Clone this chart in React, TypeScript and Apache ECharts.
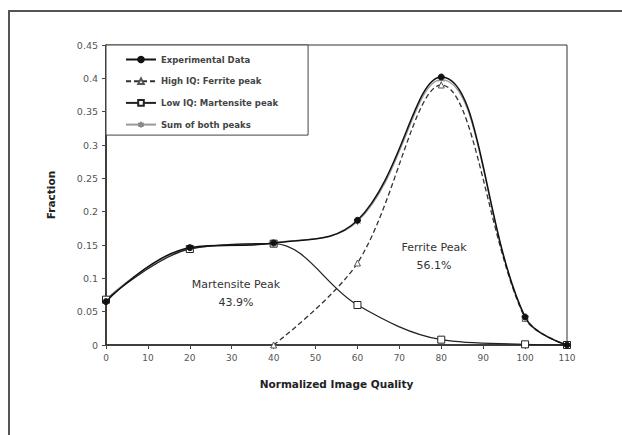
import React, { useEffect, useRef } from "react";
import * as echarts from "echarts";

// Normalized image quality bins
const iqValues = [0, 20, 40, 60, 80, 100, 110];

// Measured fraction per IQ bin
const experimental = [0.065, 0.146, 0.153, 0.187, 0.402, 0.042, 0.0];
// Fitted high-IQ (ferrite) peak
const ferriteIQ = [40, 60, 80, 100, 110];
const ferritePeak = [0.0, 0.123, 0.39, 0.04, 0.0];
// Fitted low-IQ (martensite) peak
const martensitePeak = [0.068, 0.144, 0.152, 0.06, 0.008, 0.001, 0.0];
// Sum of the two fitted peaks
const sumPeaks = [0.068, 0.145, 0.153, 0.185, 0.398, 0.041, 0.0];

const xTicks = { min: 0, max: 110, interval: 10 };
const yTicks = { min: 0, max: 0.45, interval: 0.05 };

const asterisk =
  "path://M5,0 L5,10 M0.7,2.5 L9.3,7.5 M0.7,7.5 L9.3,2.5";

const pair = (xs: number[], ys: number[]) => xs.map((x, i) => [x, ys[i]]);

export default function App() {
  const ref = useRef<HTMLDivElement>(null);

  useEffect(() => {
    if (!ref.current) return;
    const chart = echarts.init(ref.current, undefined, { renderer: "svg" });
    const font = "DejaVu Sans, Arial, sans-serif";
    chart.setOption({
      animation: false,
      backgroundColor: "#ffffff",
      textStyle: { fontFamily: font },
      grid: {
        left: 106,
        top: 45,
        right: 55,
        bottom: 90,
        show: true,
        borderColor: "#333",
        borderWidth: 1,
      },
      legend: {
        orient: "vertical",
        left: 106,
        top: 45,
        padding: [10, 30, 6, 19],
        itemGap: 12.7,
        itemWidth: 30,
        itemHeight: 7,
        backgroundColor: "#ffffff",
        borderColor: "#444",
        borderWidth: 1,
        textStyle: { fontSize: 8.5, fontWeight: "bold", color: "#444", fontFamily: font },
        data: [
          "Experimental Data",
          "High IQ: Ferrite peak",
          "Low IQ: Martensite peak",
          "Sum of both peaks",
        ],
      },
      xAxis: {
        type: "value",
        ...xTicks,
        name: "Normalized Image Quality",
        nameLocation: "middle",
        nameGap: 33,
        nameTextStyle: { fontSize: 10.5, fontWeight: "bold", color: "#222" },
        axisLine: { lineStyle: { color: "#222", width: 1.5 } },
        axisTick: { show: true, length: 4, lineStyle: { color: "#444" } },
        axisLabel: { fontSize: 9, color: "#555", margin: 8 },
        splitLine: { show: false },
      },
      yAxis: {
        type: "value",
        ...yTicks,
        name: "Fraction",
        nameLocation: "middle",
        nameGap: 50,
        nameTextStyle: { fontSize: 10.5, fontWeight: "bold", color: "#222" },
        axisLine: { show: true, lineStyle: { color: "#222", width: 1.5 } },
        axisTick: { show: true, length: 4, lineStyle: { color: "#444" } },
        axisLabel: { fontSize: 9.5, color: "#555", margin: 8 },
        splitLine: { show: false },
      },
      series: [
        {
          name: "Sum of both peaks",
          type: "line",
          smooth: 0.4,
          data: pair(iqValues, sumPeaks),
          symbol: asterisk,
          symbolSize: 7,
          lineStyle: { color: "#999", width: 1.2 },
          itemStyle: { color: "#ffffff", borderColor: "#888", borderWidth: 1 },
          z: 2,
        },
        {
          name: "High IQ: Ferrite peak",
          type: "line",
          smooth: 0.35,
          data: pair(ferriteIQ, ferritePeak),
          symbol: "triangle",
          symbolSize: 6,
          lineStyle: { color: "#333", width: 1.3, type: [5, 3] },
          itemStyle: { color: "#ffffff", borderColor: "#555", borderWidth: 1 },
          z: 3,
        },
        {
          name: "Low IQ: Martensite peak",
          type: "line",
          smooth: 0.35,
          data: pair(iqValues, martensitePeak),
          symbol: "rect",
          symbolSize: 7,
          lineStyle: { color: "#222", width: 1.3 },
          itemStyle: { color: "#ffffff", borderColor: "#222", borderWidth: 1 },
          z: 4,
        },
        {
          name: "Experimental Data",
          type: "line",
          smooth: 0.4,
          data: pair(iqValues, experimental),
          symbol: "circle",
          symbolSize: 6,
          lineStyle: { color: "#111", width: 1.5 },
          itemStyle: { color: "#111", borderColor: "#111", borderWidth: 1 },
          z: 5,
        },
      ],
      graphic: [
        {
          type: "polyline",
          shape: { points: [[9, 435], [9, 11], [622, 11]] },
          style: { stroke: "#555", lineWidth: 2, fill: "none" },
          silent: true,
        },
        {
          type: "text",
          x: 236,
          y: 275,
          style: {
            text: "Martensite Peak\n43.9%",
            fontSize: 11,
            fontFamily: font,
            fill: "#333",
            align: "center",
            lineHeight: 18,
          },
        },
        {
          type: "text",
          x: 434,
          y: 238,
          style: {
            text: "Ferrite Peak\n56.1%",
            fontSize: 11,
            fontFamily: font,
            fill: "#333",
            align: "center",
            lineHeight: 18,
          },
        },
      ],
    });
    return () => chart.dispose();
  }, []);

  return (
    <div
      ref={ref}
      style={{ position: "fixed", left: 0, top: 0, width: 622, height: 435, background: "#fff" }}
    />
  );
}
